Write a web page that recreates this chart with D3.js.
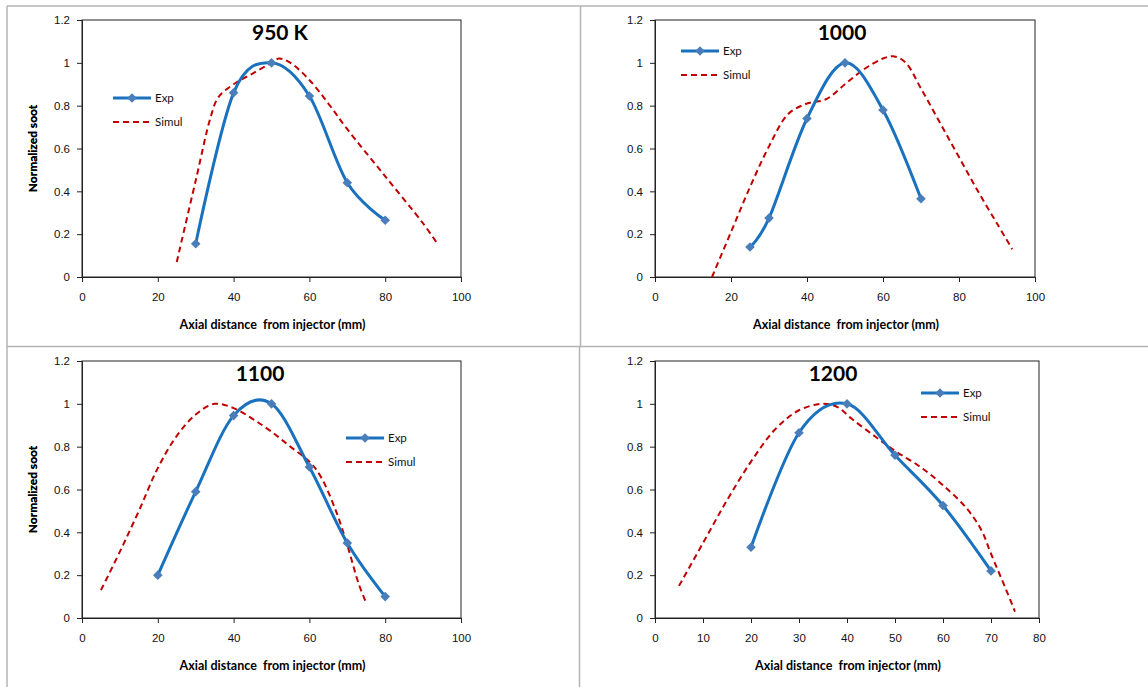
<!DOCTYPE html>
<html>
<head>
<meta charset="utf-8">
<script src="https://cdn.jsdelivr.net/npm/d3@7.9.0/dist/d3.min.js"></script>
<style>
  body { margin: 0; background: #fff; }
  svg { display: block; font-family: Lato, "Open Sans", sans-serif; }
</style>
</head>
<body>
<svg id="chart" width="1148" height="687"></svg>
<script>
// panel titles
const titles = ["950 K", "1000", "1100", "1200"];

// experimental points [x (mm), normalized soot]
const exp950 = [[30, 0.155], [40, 0.86], [50, 1.0], [60, 0.845], [70, 0.44], [80, 0.265]];
const exp1000 = [[25, 0.14], [30, 0.275], [40, 0.74], [50, 1.0], [60, 0.78], [70, 0.365]];
const exp1100 = [[20, 0.2], [30, 0.59], [40, 0.945], [50, 1.0], [60, 0.705], [70, 0.35], [80, 0.1]];
const exp1200 = [[20, 0.33], [30, 0.865], [40, 1.0], [50, 0.76], [60, 0.525], [70, 0.22]];

// simulation curves
const sim950 = [[25, 0.07], [30, 0.45], [34, 0.75], [36, 0.84], [40, 0.9], [45, 0.95], [50, 1.0],
  [52, 1.02], [55, 1.0], [60, 0.92], [65, 0.81], [70, 0.69], [80, 0.47], [90, 0.25], [94, 0.15]];
const sim1000 = [[15, 0], [20, 0.21], [25, 0.42], [30, 0.61], [35, 0.76], [40, 0.81], [45, 0.83],
  [50, 0.9], [55, 0.97], [60, 1.02], [63, 1.03], [66, 1.0], [70, 0.88], [75, 0.72], [80, 0.56],
  [85, 0.4], [90, 0.25], [94, 0.13]];
const sim1100 = [[5, 0.13], [10, 0.31], [15, 0.5], [20, 0.7], [25, 0.85], [30, 0.95], [35, 1.0],
  [40, 0.98], [45, 0.93], [50, 0.87], [55, 0.8], [60, 0.73], [63, 0.66], [67, 0.5], [70, 0.34],
  [73, 0.16], [75, 0.07]];
const sim1200 = [[5, 0.15], [10, 0.35], [15, 0.55], [20, 0.73], [25, 0.88], [30, 0.97], [35, 1.0],
  [38, 0.985], [41, 0.93], [46, 0.845], [50, 0.78], [55, 0.71], [60, 0.62], [65, 0.51], [68, 0.41],
  [70, 0.3], [73, 0.14], [75, 0.03]];

// axis ticks
const yTicks = [0, 0.2, 0.4, 0.6, 0.8, 1, 1.2];
const xTicks100 = [0, 20, 40, 60, 80, 100];
const xTicks80 = [0, 10, 20, 30, 40, 50, 60, 70, 80];

const seriesNames = ["Exp", "Simul"];
const xLabel = "Axial distance  from injector (mm)";
const yLabel = "Normalized soot";

const expColor = "#1a72bf";
const markerColor = "#4a7ebb";
const simColor = "#c00000";

const svg = d3.select("#chart");

// cell grid lines
const grid = svg.append("g").attr("stroke", "#b4b4b4").attr("stroke-width", 1.5);
grid.append("line").attr("x1", 7).attr("x2", 1148).attr("y1", 6).attr("y2", 6);
grid.append("line").attr("x1", 7).attr("x2", 7).attr("y1", 6).attr("y2", 687);
grid.append("line").attr("x1", 7).attr("x2", 1148).attr("y1", 346.5).attr("y2", 346.5);
grid.append("line").attr("x1", 580.5).attr("x2", 580.5).attr("y1", 6).attr("y2", 346.5);
grid.append("line").attr("x1", 579.5).attr("x2", 579.5).attr("y1", 346.5).attr("y2", 687);

const panels = [
  { title: titles[0], exp: exp950, sim: sim950, xTicks: xTicks100, xMax: 100,
    box: [82, 461, 20, 277], titleX: 280, leg: [113, 98] },
  { title: titles[1], exp: exp1000, sim: sim1000, xTicks: xTicks100, xMax: 100,
    box: [655, 1035, 20, 277], titleX: 842, leg: [681, 51] },
  { title: titles[2], exp: exp1100, sim: sim1100, xTicks: xTicks100, xMax: 100,
    box: [82, 461, 361, 618], titleX: 260, leg: [346, 438] },
  { title: titles[3], exp: exp1200, sim: sim1200, xTicks: xTicks80, xMax: 80,
    box: [655, 1039, 361, 618], titleX: 833, leg: [921, 393] }
];

// square diamond marker (rotated square)
const diamond = d3.symbol().type(d3.symbolSquare).size(46);

panels.forEach(p => {
  const [x0, x1, y0, y1] = p.box;
  const x = d3.scaleLinear().domain([0, p.xMax]).range([x0, x1]);
  const y = d3.scaleLinear().domain([0, 1.2]).range([y1, y0]);
  const g = svg.append("g");

  // plot frame
  g.append("rect")
    .attr("x", x0).attr("y", y0).attr("width", x1 - x0).attr("height", y1 - y0)
    .attr("fill", "none").attr("stroke", "#222").attr("stroke-width", 1);

  const xAxis = g.append("g")
    .attr("transform", `translate(0,${y1})`)
    .call(d3.axisBottom(x).tickValues(p.xTicks).tickSize(5).tickPadding(11).tickFormat(d3.format("d")));
  const yAxis = g.append("g")
    .attr("transform", `translate(${x0},0)`)
    .call(d3.axisLeft(y).tickValues(yTicks).tickSize(5).tickPadding(7).tickFormat(d => String(d)));
  [xAxis, yAxis].forEach(a => {
    a.select(".domain").attr("stroke", "#222");
    a.selectAll(".tick line").attr("stroke", "#222");
    a.selectAll("text").attr("font-size", 11.5).attr("fill", "#111");
  });

  // axis titles
  g.append("text")
    .attr("x", (x0 + x1) / 2 + 1).attr("y", y1 + 52)
    .attr("text-anchor", "middle").attr("font-size", 12.5).attr("font-weight", "bold")
    .style("white-space", "pre")
    .text(xLabel);
  g.append("text")
    .attr("transform", `translate(${37},${(y0 + y1) / 2}) rotate(-90)`)
    .attr("text-anchor", "middle").attr("font-size", 12).attr("font-weight", "bold")
    .text(yLabel);

  // title
  g.append("text")
    .attr("x", p.titleX).attr("y", y0 + 20)
    .attr("text-anchor", "middle").attr("font-size", 21).attr("font-weight", "bold")
    .text(p.title);

  const simLine = d3.line()
    .x(d => x(d[0])).y(d => y(d[1]))
    .curve(d3.curveCatmullRom.alpha(0.5));
  const expLine = d3.line()
    .x(d => x(d[0])).y(d => y(d[1]))
    .curve(d3.curveCatmullRom.alpha(0));

  // simulation
  g.append("path")
    .attr("d", simLine(p.sim))
    .attr("fill", "none").attr("stroke", simColor)
    .attr("stroke-width", 2).attr("stroke-dasharray", "6,4");

  // experiment
  g.append("path")
    .attr("d", expLine(p.exp))
    .attr("fill", "none").attr("stroke", expColor).attr("stroke-width", 3);
  g.selectAll("path.mk")
    .data(p.exp)
    .join("path")
    .attr("class", "mk")
    .attr("d", diamond)
    .attr("transform", d => `translate(${x(d[0])},${y(d[1])}) rotate(45)`)
    .attr("fill", markerColor);

  // legend
  const [lx, ly] = p.leg;
  const leg = g.append("g");
  leg.append("line")
    .attr("x1", lx).attr("x2", lx + 38).attr("y1", ly).attr("y2", ly)
    .attr("stroke", expColor).attr("stroke-width", 3);
  leg.append("path")
    .attr("d", diamond)
    .attr("transform", `translate(${lx + 19},${ly}) rotate(45)`)
    .attr("fill", markerColor);
  leg.append("line")
    .attr("x1", lx).attr("x2", lx + 38).attr("y1", ly + 24).attr("y2", ly + 24)
    .attr("stroke", simColor).attr("stroke-width", 2).attr("stroke-dasharray", "6,4");
  leg.selectAll("text")
    .data(seriesNames)
    .join("text")
    .attr("x", lx + 42).attr("y", (d, i) => ly + i * 24 + 4)
    .attr("font-size", 11.5).attr("fill", "#111")
    .text(d => d);
});
</script>
</body>
</html>
